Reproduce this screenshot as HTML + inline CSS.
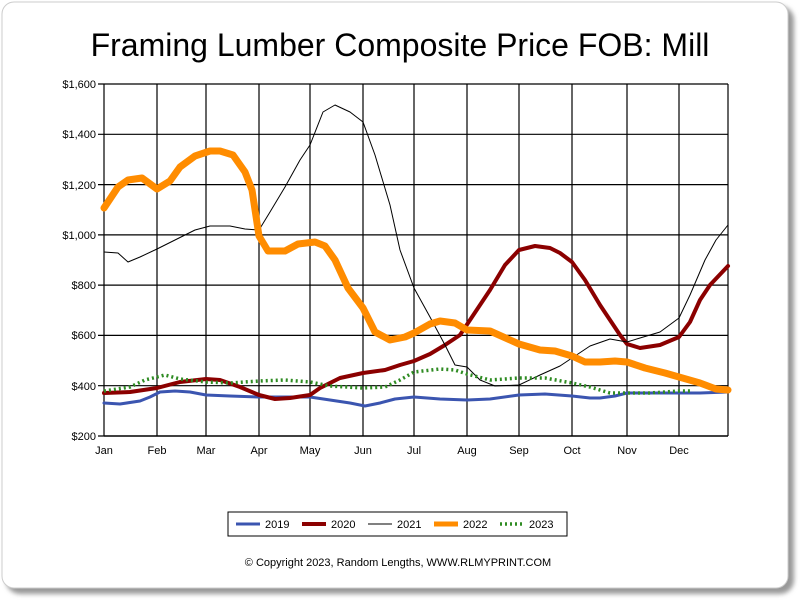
<!DOCTYPE html>
<html><head><meta charset="utf-8"><style>
body{margin:0;background:#fff;width:800px;height:600px;overflow:hidden;font-family:"Liberation Sans",sans-serif}
</style></head><body>
<svg width="800" height="600" viewBox="0 0 800 600" xmlns="http://www.w3.org/2000/svg" font-family="Liberation Sans, sans-serif">
<defs><filter id="sh" x="-5%" y="-5%" width="110%" height="110%"><feGaussianBlur stdDeviation="2.5"/></filter></defs>
<rect x="6" y="6" width="788" height="588" rx="14" fill="#999" filter="url(#sh)"/>
<rect x="2" y="2" width="786" height="586" rx="12" fill="#fff" stroke="#ccc"/>
<text x="400" y="56" text-anchor="middle" font-size="32" fill="#000">Framing Lumber Composite Price FOB: Mill</text>
<g stroke="#000" stroke-width="1.2" fill="none">
<path d="M104 84H728M104 134.3H728M104 184.6H728M104 234.9H728M104 285.1H728M104 335.4H728M104 385.7H728M98 84H104M98 134.3H104M98 184.6H104M98 234.9H104M98 285.1H104M98 335.4H104M98 385.7H104M98 436H104"/>
<path d="M104 84V436M157 84V436M206 84V436M259 84V436M310 84V436M363 84V436M414 84V436M467 84V436M519 84V436M572 84V436M627 84V436M679 84V436M728 84V436"/>
<path d="M104 436H728" stroke-width="1.5"/>
</g>
<g font-size="11" text-anchor="end" fill="#000">
<text x="96" y="88">$1,600</text><text x="96" y="138">$1,400</text><text x="96" y="189">$1,200</text><text x="96" y="239">$1,000</text><text x="96" y="289">$800</text><text x="96" y="339">$600</text><text x="96" y="390">$400</text><text x="96" y="440">$200</text>
</g>
<g font-size="11" text-anchor="middle" fill="#000">
<text x="104" y="454">Jan</text><text x="157" y="454">Feb</text><text x="206" y="454">Mar</text><text x="259" y="454">Apr</text><text x="310" y="454">May</text><text x="363" y="454">Jun</text><text x="414" y="454">Jul</text><text x="467" y="454">Aug</text><text x="519" y="454">Sep</text><text x="572" y="454">Oct</text><text x="627" y="454">Nov</text><text x="679" y="454">Dec</text>
</g>
<g fill="none" stroke-linejoin="round" stroke-linecap="round">
<polyline stroke="#3b55b0" stroke-width="3" points="104,403 120,404 140,401 150,397 160,392 175,391 190,392 206,395 230,396 259,397 285,397 310,397 330,400 350,403 365,406 380,403 395,399 414,397 440,399 467,400 490,399 519,395 545,394 572,396 590,398 600,398 615,396 627,393 650,393 679,393 700,393 728,392"/>
<polyline stroke="#8b0000" stroke-width="4" points="104,393 130,392 157,388 180,382 206,379 220,380 240,387 259,395 275,399 290,398 310,395 320,388 340,378 363,373 385,370 400,365 414,361 430,354 445,345 460,335 470,320 490,290 505,265 519,250 535,246 550,248 560,253 572,262 585,280 600,305 620,335 627,344 640,348 660,345 679,337 690,322 700,300 710,285 728,266"/>
<polyline stroke="#000" stroke-width="1" points="104,252 118,253 128,262 140,257 157,249 175,240 195,230 210,226 230,226 245,229 259,230 270,212 285,187 300,160 310,145 323,112 335,105 350,112 363,122 375,155 390,205 400,250 414,288 430,317 445,345 455,365 467,367 480,380 495,386 519,385 540,375 560,366 572,358 590,346 610,339 627,342 640,338 660,332 679,318 690,295 705,260 716,240 728,225"/>
<polyline stroke="#ff8c00" stroke-width="7" points="104,208 118,187 128,180 142,178 157,189 170,181 180,167 195,156 210,151 220,151 233,155 245,172 252,190 259,236 268,251 285,251 298,244 315,242 325,246 335,260 348,288 363,308 375,332 390,340 405,337 414,333 430,324 440,321 455,323 467,330 490,331 519,344 540,350 555,351 572,356 585,362 600,362 615,361 627,362 645,368 665,373 679,377 700,383 716,389 728,390"/>
<polyline stroke="#2e8b22" stroke-width="3.5" stroke-dasharray="2 3" stroke-linecap="butt" points="104,391 130,387 145,380 165,375 180,379 206,382 230,383 259,381 285,380 310,382 330,386 363,388 385,387 400,380 414,372 440,369 455,370 467,374 490,380 519,378 545,378 572,383 590,387 610,393 627,393 650,393 679,391 692,391"/>
</g>
<rect x="228" y="512" width="339" height="24" fill="#fff" stroke="#000"/>
<g font-size="11" fill="#000">
<line x1="236" y1="524" x2="260" y2="524" stroke="#3b55b0" stroke-width="3"/><text x="265" y="528">2019</text>
<line x1="302" y1="524" x2="326" y2="524" stroke="#8b0000" stroke-width="4"/><text x="331" y="528">2020</text>
<line x1="368" y1="524" x2="392" y2="524" stroke="#000" stroke-width="1"/><text x="397" y="528">2021</text>
<line x1="434" y1="524" x2="458" y2="524" stroke="#ff8c00" stroke-width="5"/><text x="463" y="528">2022</text>
<line x1="500" y1="524" x2="524" y2="524" stroke="#2e8b22" stroke-width="3.5" stroke-dasharray="2 3"/><text x="529" y="528">2023</text>
</g>
<text x="398" y="566" text-anchor="middle" font-size="11" fill="#000">© Copyright 2023, Random Lengths, WWW.RLMYPRINT.COM</text>
</svg>
</body></html>
